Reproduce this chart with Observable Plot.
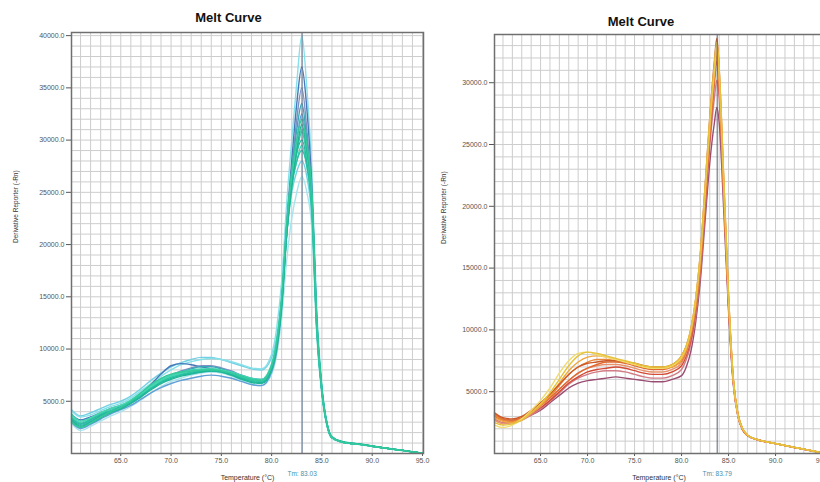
<!DOCTYPE html>
<html><head><meta charset="utf-8">
<script src="https://cdn.jsdelivr.net/npm/d3@7"></script>
<script src="https://cdn.jsdelivr.net/npm/@observablehq/plot@0.6"></script>
<style>
html,body{margin:0;padding:0;background:#fff;}
#wrap{position:relative;width:820px;height:482px;overflow:hidden;background:#fff;}
#left{position:absolute;left:0;top:0;width:440px;height:482px;}
#right{position:absolute;left:430px;top:0;width:410px;height:482px;}
#wrap svg{max-width:none !important;}
</style></head><body><div id="wrap"><div id="left"></div><div id="right"></div></div>
<script>
// ---------- shared labels ----------
const chartTitle = "Melt Curve";
const xLabel = "Temperature (°C)";
const yLabel = "Derivative Reporter (-Rn)";
const xTickValues = [65, 70, 75, 80, 85, 90, 95];
const xGridValues = [61,62,63,64,65,66,67,68,69,70,71,72,73,74,75,76,77,78,79,80,81,82,83,84,85,86,87,88,89,90,91,92,93,94,95];

// ---------- left panel ----------
const leftTm = 83.03;
const leftTmLabel = "Tm: 83.03";
const leftYTicks = [5000, 10000, 15000, 20000, 25000, 30000, 35000, 40000];
const leftYGrid = [1000,2000,3000,4000,5000,6000,7000,8000,9000,10000,11000,12000,13000,14000,15000,16000,17000,18000,19000,20000,21000,22000,23000,24000,25000,26000,27000,28000,29000,30000,31000,32000,33000,34000,35000,36000,37000,38000,39000,40000];
const leftTemps = [60.1,61,62,63,64,65,66,67,68,69,70,71,72,73,74,75,76,77,78,79,80,80.5,81,81.5,82,82.5,83,83.5,84,84.5,85,85.5,86,87,88,89,90,91,92,93,94,95];
const left01 = [3500,2900,3300,3800,4100,4400,4900,5600,6300,6900,7300,7600,7800,7900,8000,7900,7600,7300,7000,6900,8300,10500,14500,21500,26000,28800,30800,28500,24000,12000,6000,2800,1500,1100,950,850,700,550,420,300,160,30];
const left02 = [3200,2600,3000,3600,4000,4300,4800,5400,6100,6700,7100,7400,7600,7800,7900,7800,7500,7100,6800,6700,8000,10000,14000,21000,25500,29000,31500,29000,24500,12500,6200,2900,1600,1150,1000,880,720,560,430,300,170,40];
const left03 = [3800,3100,3400,3900,4300,4600,5100,5800,6500,7100,7500,7800,8000,8100,8100,8000,7800,7500,7200,7100,8600,10800,14800,21000,25500,28000,29500,27500,23000,11500,5800,2700,1500,1100,950,830,690,540,410,290,150,20];
const left04 = [3000,2500,2900,3500,4000,4400,5000,5800,6600,7200,7600,7800,7900,8000,8000,7900,7700,7400,7100,7000,8400,10600,15000,22000,27000,30000,32000,29500,25000,12800,6200,2900,1550,1120,980,860,710,560,420,300,160,30];
const left05 = [4100,3500,3700,4100,4500,4800,5300,6000,6700,7400,8000,8500,8800,9000,9100,9000,8800,8500,8200,8100,9500,12000,16500,24000,30000,35500,40000,35000,27000,13500,6500,3000,1600,1150,1000,880,720,570,430,310,170,40];
const left06 = [3700,3200,3500,3900,4300,4500,4900,5600,6600,7600,8400,8600,8500,8300,8100,7900,7600,7300,7100,7000,8200,10200,14500,22000,28000,33500,37000,33000,25500,12500,6000,2800,1500,1100,950,850,700,550,420,300,160,30];
const left07 = [3300,2900,3300,3800,4300,4600,5000,5600,6300,7000,7500,7900,8200,8400,8400,8200,7900,7500,7200,7100,8400,10400,14600,21500,27000,32000,35000,31000,24500,12000,5900,2800,1500,1100,950,850,700,550,420,300,160,30];
const left08 = [3400,2800,3200,3700,4100,4500,5000,5600,6300,6900,7400,7800,8100,8300,8300,8100,7800,7400,7100,7000,8300,10400,14600,21800,27000,31000,33500,30000,24500,12200,6000,2800,1500,1100,950,850,700,550,420,300,160,30];
const left09 = [2900,2200,2600,3100,3600,4000,4500,5100,5800,6400,6900,7200,7500,7700,7800,7700,7400,7000,6600,6500,7600,9400,13000,18500,22500,25000,26500,25000,21500,11000,5500,2600,1450,1050,920,820,680,530,400,280,150,20];
const left10 = [4200,3600,3900,4300,4700,5000,5500,6200,7000,7700,8300,8700,9000,9200,9200,9000,8700,8400,8100,8000,9200,11200,15000,21000,25000,27000,28000,26500,22500,11500,5700,2700,1500,1100,950,850,700,550,420,300,160,30];
const left11 = [3100,2500,2900,3400,3900,4300,4800,5500,6200,6800,7200,7500,7700,7900,8000,7900,7600,7200,6900,6800,8100,10300,14400,21200,26000,28800,30000,28000,23500,11800,5900,2800,1500,1100,950,850,700,550,420,300,160,30];
const left12 = [3600,3000,3400,3900,4300,4600,5100,5700,6400,7000,7400,7700,7900,8000,8100,8000,7700,7400,7100,7000,8300,10500,14700,21800,26500,29300,31000,28800,24200,12200,6000,2800,1500,1100,950,850,700,550,420,300,160,30];
const left13 = [3000,2400,2800,3300,3800,4200,4600,5200,5800,6300,6700,7000,7200,7400,7500,7400,7200,6900,6600,6500,7800,9800,14000,21000,26500,30000,32500,29500,24500,12200,6000,2800,1500,1100,950,850,700,550,420,300,160,30];
const left14 = [3300,2700,3100,3600,4000,4400,4900,5600,6300,6900,7300,7600,7700,7800,7900,7800,7500,7200,6900,6800,8200,10300,14300,21000,25800,28000,29000,27500,23500,11800,5900,2800,1500,1100,950,850,700,550,420,300,160,30];
const leftSeries = [left09, left10, left05, left06, left07, left13, left08, left03, left14, left11, left01, left12, left02, left04];
const leftColors = ["#a8e4ee", "#72d0e2", "#86e0ea", "#4677b8", "#7d8fc4", "#5f9fd6", "#3aa6b6", "#40d6b6", "#2fbfa8", "#22b89e", "#2bc4a4", "#46d6ae", "#1fb597", "#34c89a"];

// ---------- right panel ----------
const rightTm = 83.79;
const rightTmLabel = "Tm: 83.79";
const rightYTicks = [5000, 10000, 15000, 20000, 25000, 30000];
const rightYGrid = [1000,2000,3000,4000,5000,6000,7000,8000,9000,10000,11000,12000,13000,14000,15000,16000,17000,18000,19000,20000,21000,22000,23000,24000,25000,26000,27000,28000,29000,30000,31000,32000,33000];
const rightTemps = [60.1,61,62,63,64,65,66,67,68,69,70,71,72,73,74,75,76,77,78,79,80,80.5,81,81.5,82,82.5,83,83.5,83.75,84,84.5,85,85.5,86,86.5,87,88,89,90,91,92,93,94,95];
const right01 = [3100,2700,2600,2800,3300,3900,4600,5500,6400,7000,7400,7600,7600,7500,7400,7200,7000,6900,6900,7100,7700,8500,9900,12200,15800,21000,26500,31000,32800,30500,21500,12500,6000,3200,2000,1500,1150,950,800,650,500,350,200,50];
const right02 = [2500,2300,2400,2700,3300,4000,4900,6000,7100,7900,8200,8100,7900,7700,7500,7300,7100,7000,7000,7200,7900,8700,10100,12500,16200,21500,27000,31500,33300,31000,22000,12800,6100,3200,2000,1500,1150,950,800,650,500,350,200,50];
const right03 = [2300,2100,2300,2800,3500,4300,5300,6500,7500,8100,8200,8000,7800,7600,7400,7200,7000,6900,6900,7100,7800,8600,10000,12400,16000,21200,26800,31200,33000,30800,21800,12600,6000,3100,2000,1500,1150,950,800,650,500,350,200,50];
const right04 = [2900,2600,2500,2800,3300,3900,4700,5700,6700,7400,7800,7900,7800,7600,7400,7200,7000,6900,6900,7000,7600,8400,9800,12000,15600,20800,26200,30800,32600,30200,21200,12300,5900,3100,1950,1480,1150,950,800,650,500,350,200,50];
const right05 = [3200,2800,2700,2900,3400,3900,4500,5200,5900,6500,6900,7200,7400,7400,7300,7100,6900,6800,6800,7000,7500,8300,9600,11800,15300,20500,26000,30500,32200,30000,21000,12200,5900,3100,1950,1480,1150,950,800,650,500,350,200,50];
const right06 = [3000,2700,2600,2800,3200,3700,4300,5000,5700,6200,6600,6800,6900,7000,6900,6700,6500,6400,6400,6600,7100,7900,9200,11500,15000,20000,25500,30000,31800,29500,20800,12000,5800,3050,1900,1450,1130,940,790,640,490,340,190,40];
const right07 = [3100,2800,2700,2800,3100,3500,4100,4700,5300,5700,5900,6000,6100,6200,6100,6000,5900,5800,5800,6000,6300,7000,8300,10600,14000,18800,23500,26800,28000,26800,19500,11500,5600,3000,1900,1450,1130,940,790,640,490,340,190,40];
const right08 = [2800,2500,2500,2700,3100,3600,4200,4900,5600,6100,6400,6600,6700,6700,6600,6400,6200,6100,6100,6300,6800,7600,8900,11100,14600,19600,24800,28800,30200,28700,20300,11800,5700,3000,1900,1450,1130,940,790,640,490,340,190,40];
const right09 = [2700,2400,2500,2700,3200,3800,4500,5200,5900,6500,6900,7100,7200,7200,7100,6900,6700,6600,6600,6800,7300,8100,9500,11800,15300,20500,26000,30600,32400,30200,21200,12300,5900,3100,1950,1480,1150,950,800,650,500,350,200,50];
const right10 = [3300,2900,2800,3000,3500,4100,4800,5600,6400,7000,7300,7400,7500,7500,7400,7300,7100,7000,7000,7200,7900,8700,10100,12500,16200,21600,27200,31800,33600,31200,22000,12800,6100,3200,2000,1500,1150,950,800,650,500,350,200,50];
const rightSeries = [right07, right08, right06, right09, right05, right01, right04, right10, right03, right02];
const rightColors = ["#9a4d72", "#d27c86", "#d34a36", "#e8926e", "#e06a32", "#e8873a", "#f0a53a", "#cc5a28", "#f0dc70", "#e6c23a"];

function meltChart({temps, series, colors, yMax, yTicks, yGrid, tm, tmLabel, width, mL, mR, mT, mB, titleDx, titleDy, yLabelDx, tmColor}) {
  const rows = [];
  series.forEach((vals, i) => vals.forEach((v, j) => rows.push({T: temps[j], v, s: i})));
  const font = "'Liberation Sans', Arial, sans-serif";
  return Plot.plot({
    width, height: 482,
    marginLeft: mL, marginRight: mR, marginTop: mT, marginBottom: mB,
    style: {fontFamily: font, fontSize: "7px", color: "#555", background: "#fff", overflow: "visible"},
    x: {domain: [60.1, 95.1], ticks: xTickValues, tickFormat: d => d.toFixed(1), tickSize: 3, tickPadding: 2, label: null},
    y: {domain: [0, yMax], ticks: yTicks, tickFormat: d => d.toFixed(1), tickSize: 5, tickPadding: 2, label: null},
    color: {domain: series.map((_, i) => i), range: colors},
    marks: [
      Plot.ruleX(xGridValues, {stroke: "#cdcdcd", strokeWidth: 1}),
      Plot.ruleY(yGrid, {stroke: "#cdcdcd", strokeWidth: 1}),
      Plot.line(rows, {x: "T", y: "v", z: "s", stroke: "s", strokeWidth: 1.4, curve: "monotone-x"}),
      Plot.ruleX([tm], {stroke: tmColor, strokeWidth: 1}),
      Plot.frame({stroke: "#6f6f6f", strokeWidth: 1.5}),
      Plot.text([{T: tm, label: tmLabel}], {x: "T", text: "label", frameAnchor: "bottom", lineAnchor: "middle", dy: 20, fontSize: 6.5, fill: "#3f8fb0"}),
      Plot.text([chartTitle], {text: d => d, frameAnchor: "top", lineAnchor: "middle", dy: titleDy, dx: titleDx, fontSize: 13, fontWeight: "bold", fill: "#111"}),
      Plot.text([xLabel], {text: d => d, frameAnchor: "bottom", lineAnchor: "middle", dy: 24, fontSize: 7, fill: "#333"}),
      Plot.text([yLabel], {text: d => d, frameAnchor: "left", lineAnchor: "middle", dx: yLabelDx, rotate: -90, fontSize: 6.5, fill: "#333"})
    ]
  });
}

document.getElementById("left").appendChild(meltChart({
  temps: leftTemps, series: leftSeries, colors: leftColors, yMax: 40300, yTicks: leftYTicks, yGrid: leftYGrid,
  tm: leftTm, tmLabel: leftTmLabel, width: 440, mL: 71, mR: 17, mT: 32, mB: 29, titleDx: -19, titleDy: -15, yLabelDx: -56, tmColor: "#5f7590"
}));
document.getElementById("right").appendChild(meltChart({
  temps: rightTemps, series: rightSeries, colors: rightColors, yMax: 33900, yTicks: rightYTicks, yGrid: rightYGrid,
  tm: rightTm, tmLabel: rightTmLabel, width: 410, mL: 64, mR: 17, mT: 34, mB: 29, titleDx: -18, titleDy: -13, yLabelDx: -51, tmColor: "#5a6470"
}));
</script></body></html>
